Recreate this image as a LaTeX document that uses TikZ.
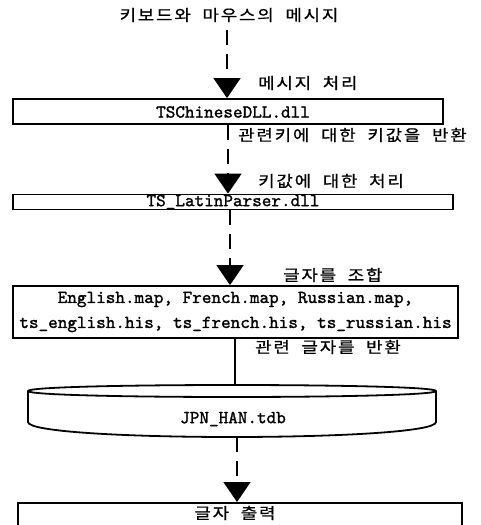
\documentclass[tikz,border=0pt]{standalone}
\usepackage{fontspec}
\newfontfamily\mono{lmmono10-regular.otf}[FakeBold=1.4]
\newfontfamily\kr[FakeStretch=1.15,LetterSpace=12,WordSpace=2,FakeBold=0.8]{Noto Sans CJK KR}
\usetikzlibrary{arrows.meta}
\begin{document}
\begin{tikzpicture}[x=1pt,y=-1pt,
  monofont/.style={font=\mono\fontsize{18.3}{25}\selectfont},
  box/.style={draw, line width=1.8pt, rectangle, inner sep=0pt, monofont},
  lbl/.style={font=\kr\fontsize{15.5}{17}\selectfont, inner sep=0pt},
  flow/.style={line width=1.6pt, dash pattern=on 15pt off 9pt, -{Triangle[length=20pt,width=27pt]}},
  solidline/.style={line width=1.2pt},
  cylline/.style={line width=1.8pt},
]
\useasboundingbox (0,0) rectangle (481,525);

% top text
\node[lbl] (t0) at (229,15) {키보드와 마우스의 메시지};

% box 1
\node[box, minimum width=430pt, minimum height=25pt] (b1) at (228,111.5) {};
\node[monofont, inner sep=0pt] (b1t) at (233,112) {TSChineseDLL.dll};
\node[lbl, anchor=west] (l1) at (258,83) {메시지 처리};
\coordinate (a1) at (227,30);
\draw[flow] (a1) -- (a1 |- b1.north);

% box 2
\node[box, minimum width=440pt, minimum height=15pt] (b2) at (233,202) {TS\_LatinParser.dll};
\node[lbl, anchor=west] (l2) at (238,135) {관련키에 대한 키값을 반환};
\node[lbl, anchor=west] (l3) at (258,181) {키값에 대한 처리};
\coordinate (a2) at (228,125);
\draw[flow] (a2 |- b1.south) -- (a2 |- b2.north);

% box 3
\node[box, minimum width=445pt, minimum height=52pt, align=center] (b3) at (235.5,312)
  {English.map, French.map, Russian.map,\\ts\_english.his, ts\_french.his, ts\_russian.his};
\node[lbl, anchor=west] (l4) at (283,275) {글자를 조합};
\coordinate (a3) at (230,210);
\draw[flow] (a3 |- b2.south) -- (a3 |- b3.north);

% cylinder
\coordinate (cyltop) at (235,385);
\coordinate (cylbot) at (237,437);
\draw[cylline, fill=white] (28,391) .. controls (28,383) and (436,383) .. (436,391)
  -- (436,422) .. controls (436,442) and (28,442) .. (28,422) -- cycle;
\draw[cylline] (28,391) .. controls (28,399) and (436,399) .. (436,391);
\node[monofont, inner sep=0pt] (cyl) at (233,419) {JPN\_HAN.tdb};
\node[lbl, anchor=west] (l5) at (255,347) {관련 글자를 반환};
\draw[solidline] (cyltop |- b3.south) -- (cyltop);

% bottom box
\node[box, minimum width=444pt, minimum height=44pt, anchor=north] (b5) at (240,502) {};
\node[lbl] (t5) at (235,513) {글자 출력};
\draw[flow] (cylbot) -- (cylbot |- b5.north);
\end{tikzpicture}
\end{document}
